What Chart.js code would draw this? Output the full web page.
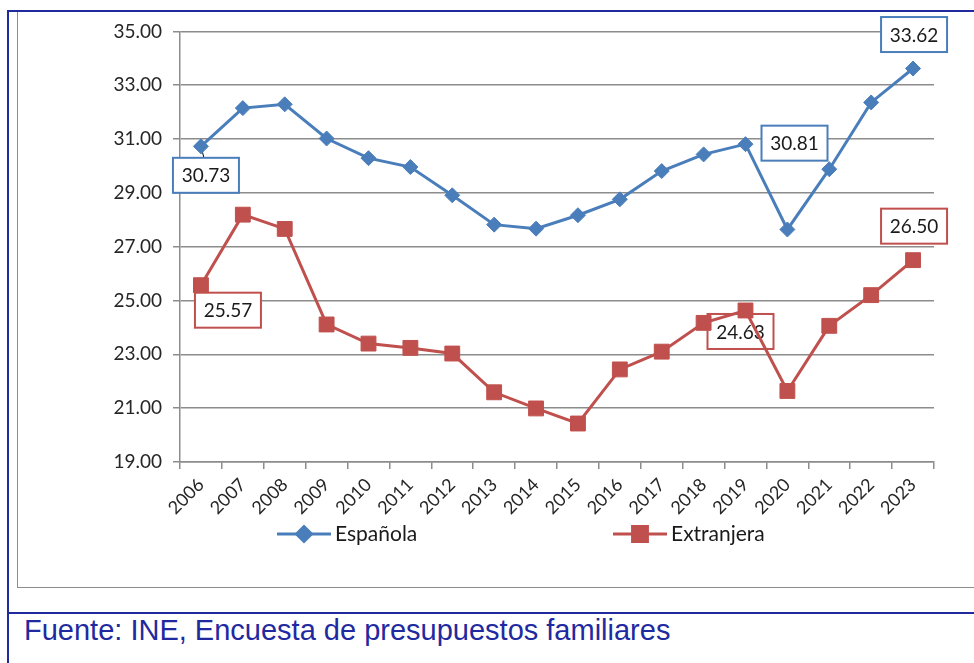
<!DOCTYPE html>
<html>
<head>
<meta charset="utf-8">
<script src="https://cdn.jsdelivr.net/npm/chart.js@4"></script>
<style>
  html, body { margin: 0; padding: 0; background: #fff; width: 974px; height: 663px; overflow: hidden; }
  #blueLeft { position: absolute; left: 7px; top: 10px; width: 2px; height: 660px; background: #1f2a9c; }
  #blueTop { position: absolute; left: 7px; top: 10px; width: 980px; height: 2px; background: #1f2a9c; }
  #blueSep { position: absolute; left: 7px; top: 612px; width: 980px; height: 2px; background: #1f2a9c; }
  #frame { position: absolute; left: 17px; top: 12px; width: 980px; height: 575px; border-left: 1px solid #8c8c8c; border-bottom: 1px solid #8c8c8c; }
  #wrap { position: absolute; left: 18px; top: 9px; width: 956px; height: 578px; }
  #fuente { position: absolute; left: 24px; top: 614px; font-family: "Liberation Sans", Arial, sans-serif; font-size: 29px; color: #1f2aa0; white-space: nowrap; }
</style>
</head>
<body>
<div id="blueLeft"></div>
<div id="blueTop"></div>
<div id="blueSep"></div>
<div id="frame"></div>
<div id="wrap"><canvas id="grafica" width="956" height="578"></canvas></div>
<div id="fuente">Fuente: INE, Encuesta de presupuestos familiares</div>
<script>
// Datos del gráfico
const anios = ['2006','2007','2008','2009','2010','2011','2012','2013','2014','2015','2016','2017','2018','2019','2020','2021','2022','2023'];
const espanola = [30.73, 32.15, 32.29, 31.02, 30.29, 29.96, 28.91, 27.82, 27.67, 28.17, 28.76, 29.81, 30.43, 30.81, 27.64, 29.88, 32.36, 33.62];
const extranjera = [25.57, 28.19, 27.66, 24.11, 23.40, 23.24, 23.03, 21.59, 20.99, 20.43, 22.44, 23.10, 24.17, 24.63, 21.64, 24.06, 25.20, 26.50];
const ejeY = { min: 19, max: 35, paso: 2 };

const AZUL = '#4a7ebb';
const ROJO = '#c0504d';
const FUENTE = 'Lato, "Open Sans", sans-serif';

// Etiquetas de datos (indice de serie, indice de punto, desplazamiento de la caja)
const etiquetas = [
    { ds: 0, i: 0, dx: 5, dy: 29, guia: true },
    { ds: 0, i: 13, dx: 49, dy: -1 },
    { ds: 0, i: 17, dx: 1, dy: -34 },
    { ds: 1, i: 0, dx: 27, dy: 25 },
    { ds: 1, i: 13, dx: -5, dy: 21 },
    { ds: 1, i: 17, dx: 1, dy: -34 }
];

// Cajas con valores, dibujadas antes de las lineas
const pluginEtiquetas = {
    id: 'etiquetas',
    beforeDatasetsDraw(chart) {
        const ctx = chart.ctx;
        ctx.save();
        ctx.font = '19px ' + FUENTE;
        ctx.textAlign = 'center';
        ctx.textBaseline = 'middle';
        etiquetas.forEach(function (e) {
            const ds = chart.data.datasets[e.ds];
            const pt = chart.getDatasetMeta(e.ds).data[e.i];
            const cx = pt.x + e.dx, cy = pt.y + e.dy;
            const w = 66, h = 35;
            if (e.guia) {
                ctx.strokeStyle = '#000';
                ctx.lineWidth = 1;
                ctx.beginPath();
                ctx.moveTo(pt.x, pt.y);
                ctx.lineTo(pt.x + 3, cy - h / 2);
                ctx.stroke();
            }
            ctx.fillStyle = '#fff';
            ctx.fillRect(cx - w / 2, cy - h / 2, w, h);
            ctx.strokeStyle = ds.borderColor;
            ctx.lineWidth = 2;
            ctx.strokeRect(cx - w / 2, cy - h / 2, w, h);
            ctx.fillStyle = '#1a1a1a';
            ctx.fillText(ds.data[e.i].toFixed(2), cx, cy + 1);
        });
        ctx.restore();
    }
};

// Leyenda propia, como en Excel
const pluginLeyenda = {
    id: 'leyendaExcel',
    afterDraw(chart) {
        const ctx = chart.ctx;
        const items = [{ x: 259, ds: 0 }, { x: 595, ds: 1 }];
        const y = 525;
        ctx.save();
        items.forEach(function (it) {
            const ds = chart.data.datasets[it.ds];
            ctx.strokeStyle = ds.borderColor;
            ctx.lineWidth = 3;
            ctx.beginPath();
            ctx.moveTo(it.x, y);
            ctx.lineTo(it.x + 54, y);
            ctx.stroke();
            Chart.helpers.drawPoint(ctx, {
                pointStyle: ds.pointStyle,
                radius: ds.pointRadius,
                borderWidth: 1
            }, it.x + 27, y);
            ctx.fillStyle = ds.backgroundColor;
            ctx.fill();
            ctx.fillStyle = '#1a1a1a';
            ctx.font = '21px ' + FUENTE;
            ctx.textAlign = 'left';
            ctx.textBaseline = 'middle';
            ctx.fillText(ds.label, it.x + 58, y);
        });
        ctx.restore();
    }
};

const ctx = document.getElementById('grafica').getContext('2d');
window.miGrafica = new Chart(ctx, {
    type: 'line',
    data: {
        labels: anios,
        datasets: [{
            label: 'Española',
            data: espanola,
            borderColor: AZUL,
            backgroundColor: AZUL,
            borderWidth: 3,
            pointStyle: 'rectRot',
            pointRadius: 7.5,
            pointBorderWidth: 1,
            tension: 0
        }, {
            label: 'Extranjera',
            data: extranjera,
            borderColor: ROJO,
            backgroundColor: ROJO,
            borderWidth: 3,
            pointStyle: 'rect',
            pointRadius: 10.5,
            pointBorderWidth: 1,
            tension: 0
        }]
    },
    options: {
        responsive: false,
        animation: false,
        layout: { padding: { top: 16, right: 40, left: 0, bottom: 0 } },
        plugins: {
            legend: { display: false },
            tooltip: { enabled: false }
        },
        scales: {
            y: {
                min: ejeY.min,
                max: ejeY.max,
                afterFit: function (scale) { scale.width = 162; },
                ticks: {
                    stepSize: ejeY.paso,
                    color: '#262626',
                    font: { family: FUENTE, size: 19 },
                    padding: 11,
                    callback: function (v) { return v.toFixed(2); }
                },
                grid: { color: '#8c8c8c', lineWidth: 1.5, tickLength: 7, tickColor: '#8c8c8c' },
                border: { color: '#8c8c8c', width: 1.5 }
            },
            x: {
                offset: true,
                afterFit: function (scale) { scale.height = 125; },
                ticks: {
                    color: '#262626',
                    font: { family: FUENTE, size: 18 },
                    minRotation: 45,
                    maxRotation: 45,
                    autoSkip: false,
                    padding: 5
                },
                grid: { offset: true, drawOnChartArea: false, tickLength: 7, color: '#8c8c8c', lineWidth: 1.5 },
                border: { color: '#8c8c8c', width: 1.5 }
            }
        }
    },
    plugins: [pluginEtiquetas, pluginLeyenda]
});
</script>
</body>
</html>
